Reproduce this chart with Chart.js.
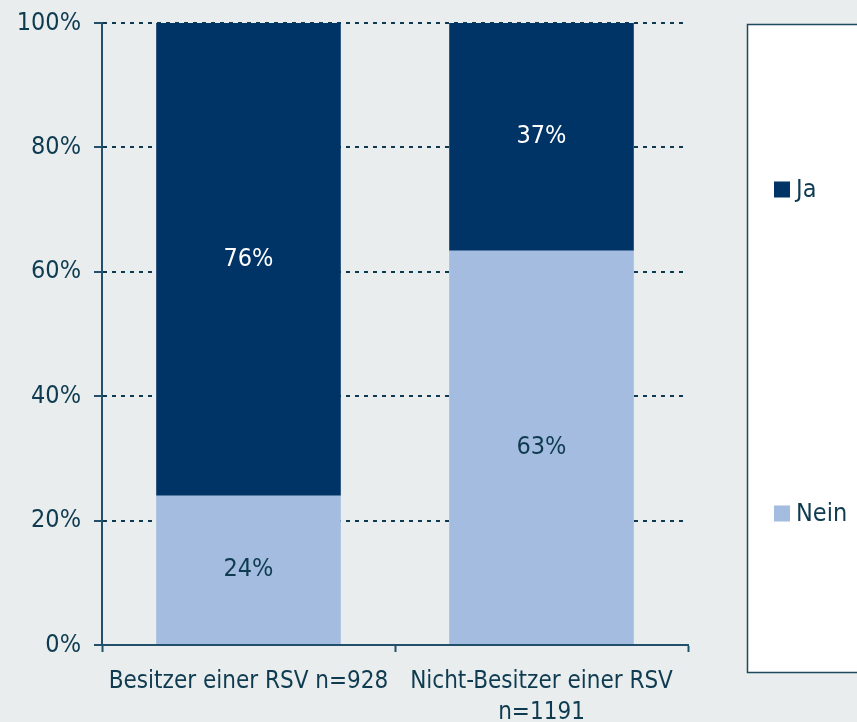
<!DOCTYPE html>
<html>
<head>
<meta charset="utf-8">
<script src="https://cdn.jsdelivr.net/npm/chart.js@4/dist/chart.umd.min.js"></script>
<style>
  html, body { margin: 0; padding: 0; background: #E9EDEE; }
  #wrap { width: 857px; height: 722px; position: relative; }
</style>
</head>
<body>
<div id="wrap"><canvas id="rsvChart"></canvas></div>
<script>
// --- DATA ---
const categories = ['Besitzer einer RSV n=928', ['Nicht-Besitzer einer RSV', 'n=1191']];
const neinValues = [24, 63.4];
const jaValues = [76, 36.6];
const yTicks = [0, 20, 40, 60, 80, 100];

const FONT = "'DejaVu Sans Condensed', 'DejaVu Sans', sans-serif";
const TEXT = '#0F3B50';
const AXIS = '#22506A';

// value labels inside the bar segments
const segmentLabels = {
    id: 'segmentLabels',
    afterDatasetsDraw(chart) {
        const ctx = chart.ctx;
        ctx.save();
        ctx.font = '25px ' + FONT;
        ctx.textAlign = 'center';
        ctx.textBaseline = 'middle';
        chart.data.datasets.forEach((ds, di) => {
            chart.getDatasetMeta(di).data.forEach((bar, i) => {
                const mid = (bar.y + bar.base) / 2;
                ctx.fillStyle = ds.labelColor;
                ctx.fillText(Math.round(ds.data[i]) + '%', bar.x, mid);
            });
        });
        ctx.restore();
    }
};

// boxed legend on the right, Ja on top
const boxLegend = {
    id: 'boxLegend',
    afterDraw(chart) {
        const ctx = chart.ctx;
        const left = 747.5, top = 24.5, bottom = 672.5;
        ctx.save();
        ctx.fillStyle = '#FFFFFF';
        ctx.fillRect(left, top, 200, bottom - top);
        ctx.strokeStyle = '#1E4A5E';
        ctx.lineWidth = 1.5;
        ctx.strokeRect(left, top, 200, bottom - top);

        const items = chart.data.datasets.slice().reverse();
        const step = (bottom - top) / items.length;
        ctx.font = '25px ' + FONT;
        ctx.textBaseline = 'middle';
        ctx.textAlign = 'left';
        items.forEach((ds, i) => {
            const cy = top + step * (i + 0.5) + 3;
            ctx.fillStyle = ds.backgroundColor;
            ctx.fillRect(774, cy - 8, 16, 16);
            ctx.fillStyle = TEXT;
            ctx.fillText(ds.label, 796, cy + 1);
        });
        ctx.restore();
    }
};

const ctxRsv = document.getElementById('rsvChart');

new Chart(ctxRsv, {
    type: 'bar',
    data: {
        labels: categories,
        datasets: [{
            label: 'Nein',
            data: neinValues,
            backgroundColor: '#A3BCE0',
            labelColor: TEXT,
            borderWidth: 0
        }, {
            label: 'Ja',
            data: jaValues,
            backgroundColor: '#003366',
            labelColor: '#FFFFFF',
            borderWidth: 0
        }]
    },
    options: {
        responsive: true,
        maintainAspectRatio: false,
        animation: false,
        categoryPercentage: 0.63,
        barPercentage: 1,
        layout: { padding: { top: 23, right: 169, left: 0, bottom: 0 } },
        plugins: {
            legend: { display: false },
            tooltip: { enabled: false }
        },
        scales: {
            x: {
                stacked: true,
                afterFit: s => { s.height = 77; s.paddingLeft = 0; s.paddingRight = 0; },
                grid: {
                    drawOnChartArea: false,
                    drawTicks: true,
                    tickLength: 7,
                    tickWidth: 2,
                    tickColor: AXIS
                },
                border: { color: AXIS, width: 2 },
                ticks: {
                    color: TEXT,
                    padding: 15,
                    maxRotation: 0,
                    autoSkip: false,
                    font: { family: FONT, size: 24, lineHeight: 1.27 }
                }
            },
            y: {
                stacked: true,
                min: 0,
                max: 100,
                afterFit: s => { s.width = 102; s.paddingTop = 0; s.paddingBottom = 0; },
                afterBuildTicks: s => { s.ticks = yTicks.map(v => ({ value: v })); },
                grid: {
                    color: '#0D3A50',
                    lineWidth: 2,
                    drawTicks: true,
                    tickLength: 8,
                    tickWidth: 2,
                    tickColor: AXIS
                },
                border: { color: AXIS, width: 2, dash: [4, 5] },
                ticks: {
                    color: TEXT,
                    padding: 13,
                    font: { family: FONT, size: 25 },
                    callback: v => v + '%'
                }
            }
        }
    },
    plugins: [segmentLabels, boxLegend]
});
</script>
</body>
</html>
